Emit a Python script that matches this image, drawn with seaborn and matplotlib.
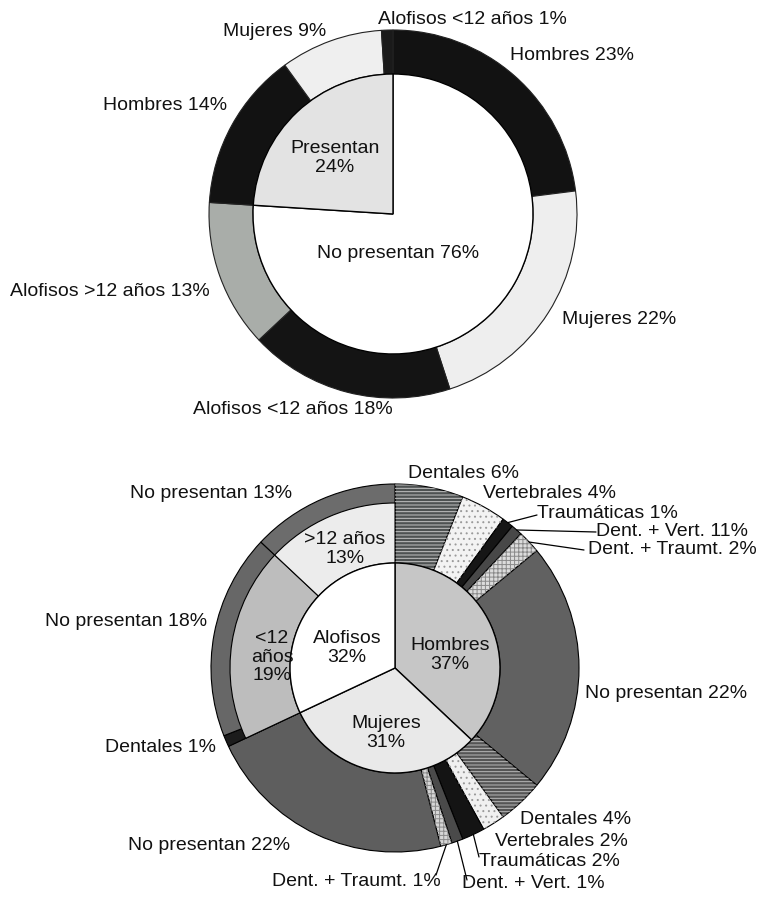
import numpy as np
import matplotlib
matplotlib.use("Agg")
import matplotlib.pyplot as plt
from matplotlib.patches import Wedge
import seaborn as sns

sns.set_style("white")
plt.rcParams["font.family"] = ["Liberation Sans", "DejaVu Sans"]
plt.rcParams["hatch.linewidth"] = 0.7

W, H = 762, 898

# ---------------------------------------------------------------------------
# data: top chart (presence / absence)
# ---------------------------------------------------------------------------
top_inner_labels = ["No presentan", "Presentan"]
top_inner_values = [76, 24]
top_outer_labels = ["Hombres", "Mujeres", "Alofisos <12 años", "Alofisos >12 años",
                    "Hombres", "Mujeres", "Alofisos <12 años"]
top_outer_values = [23, 22, 18, 13, 14, 9, 1]

# ---------------------------------------------------------------------------
# data: bottom chart (by group / type)
# ---------------------------------------------------------------------------
bottom_inner_labels = ["Hombres", "Mujeres", "Alofisos"]
bottom_inner_values = [37, 31, 32]
alofisos_labels = ["<12\naños", ">12 años"]
alofisos_values = [19, 13]
bottom_outer_labels = ["Dentales", "Vertebrales", "Traumáticas", "Dent. + Vert.",
                       "Dent. + Traumt.", "No presentan",
                       "Dentales", "Vertebrales", "Traumáticas", "Dent. + Vert.",
                       "Dent. + Traumt.", "No presentan",
                       "Dentales", "No presentan", "No presentan"]
bottom_outer_values = [6, 4, 1, 1, 2, 22, 4, 2, 2, 1, 1, 22, 1, 18, 13]
# percentages as printed on the original (one label reads 11%)
bottom_outer_printed = [6, 4, 1, 11, 2, 22, 4, 2, 2, 1, 1, 22, 1, 18, 13]

FS = 14

fig = plt.figure(figsize=(W / 100, H / 100), dpi=100)
ax = fig.add_axes([0, 0, 1, 1])


def P(x, y):
    return (x, H - y)


def lab(x, y, s, ha="center", **kw):
    ax.text(*P(x, y), s, ha=ha, va="center", fontsize=FS, color="#111111",
            linespacing=1.15, **kw)


def rim_point(wedge, center, r):
    th = np.deg2rad((wedge.theta1 + wedge.theta2) / 2)
    return center[0] + r * np.cos(th), center[1] + r * np.sin(th)


def hatch_over(w, pattern, color):
    ax.add_patch(Wedge(w.center, w.r, w.theta1, w.theta2, width=w.width,
                       fill=False, hatch=pattern, edgecolor=color, lw=0))


# ---------------------------------------------------------------------------
# top chart
# ---------------------------------------------------------------------------
c1 = P(393, 214)
top_colors = ["#121212", "#eeeeee", "#141414", "#a9ada9", "#121212", "#efefef", "#1a1a1a"]
ax.pie(top_outer_values, radius=184, center=c1, startangle=90, counterclock=False,
       colors=top_colors, wedgeprops=dict(width=44, edgecolor="#222222", linewidth=0.8))
ax.pie(top_inner_values, radius=140, center=c1, startangle=90, counterclock=False,
       colors=["white", "#e3e3e3"], wedgeprops=dict(edgecolor="black", linewidth=1))

lab(472, 19, "Alofisos <12 años 1%")
lab(572, 55, "Hombres 23%")
lab(275, 32, "Mujeres 9%")
lab(165, 106, "Hombres 14%")
lab(335, 158, "Presentan\n24%")
lab(398, 253, "No presentan 76%")
lab(110, 291, "Alofisos >12 años 13%")
lab(619, 320, "Mujeres 22%")
lab(293, 410, "Alofisos <12 años 18%")

# ---------------------------------------------------------------------------
# bottom chart
# ---------------------------------------------------------------------------
c2 = P(395, 668)
outer_colors = ["#4e5252", "#f3f3f3", "#161616", "#484848", "#dcdcdc", "#616161",
                "#555555", "#f0f0f0", "#141414", "#4a4a4a", "#d6d6d6", "#5e5e5e",
                "#1c1c1c", "#676767", "#6c6c6c"]
outer_hatch = [("-----", "#c4c4c4"), ("...", "#9a9a9a"), None, None, ("++++", "#8a8a8a"), None,
               ("-----", "#b8b8b8"), ("...", "#9a9a9a"), None, None, ("++++", "#8a8a8a"), None,
               None, None, None]
outer_wedges, _ = ax.pie(bottom_outer_values, radius=184, center=c2, startangle=90,
                         counterclock=False, colors=outer_colors,
                         wedgeprops=dict(width=79, edgecolor="black", linewidth=0.8))
for w, h in zip(outer_wedges, outer_hatch):
    if h:
        hatch_over(w, *h)

mid_values = [bottom_inner_values[0] + bottom_inner_values[1]] + alofisos_values
mid_wedges, _ = ax.pie(mid_values, radius=165, center=c2, startangle=90,
                       counterclock=False, colors=["white", "#bdbdbd", "#ececec"],
                       wedgeprops=dict(width=60, edgecolor="black", linewidth=0.8))
mid_wedges[0].set_visible(False)

ax.pie(bottom_inner_values, radius=105, center=c2, startangle=90, counterclock=False,
       colors=["#c6c6c6", "#e9e9e9", "white"],
       wedgeprops=dict(edgecolor="black", linewidth=1))

lab(450, 655, "Hombres\n37%")
lab(386, 733, "Mujeres\n31%")
lab(347, 648, "Alofisos\n32%")
lab(345, 549, ">12 años\n13%")
lab(272, 657, "<12\naños\n19%")

outer_text = [f"{n} {v}%" for n, v in zip(bottom_outer_labels, bottom_outer_printed)]
# label anchor (pixels), alignment, optional leader end
outer_pos = [
    ((408, 473), "left", None),
    ((483, 493), "left", None),
    ((537, 513), "left", (537, 515)),
    ((596, 531), "left", (596, 532)),
    ((588, 550), "left", (584, 550)),
    ((585, 694), "left", None),
    ((520, 820), "left", None),
    ((495, 841), "left", None),
    ((479, 861), "left", (479, 857)),
    ((462, 884), "left", (467, 880)),
    ((441, 881), "right", (436, 875)),
    ((128, 845), "left", None),
    ((105, 747), "left", None),
    ((45, 621), "left", None),
    ((130, 493), "left", None),
]
for w, s, (pos, ha, end) in zip(outer_wedges, outer_text, outer_pos):
    lab(pos[0], pos[1], s, ha=ha)
    if end is not None:
        sx, sy = rim_point(w, c2, 184)
        ex, ey = P(*end)
        ax.plot([sx, ex], [sy, ey], color="black", lw=0.9)

ax.set_xlim(0, W)
ax.set_ylim(0, H)
ax.set_aspect("equal")
ax.axis("off")
fig.savefig("out.png", dpi=100, facecolor="white")
